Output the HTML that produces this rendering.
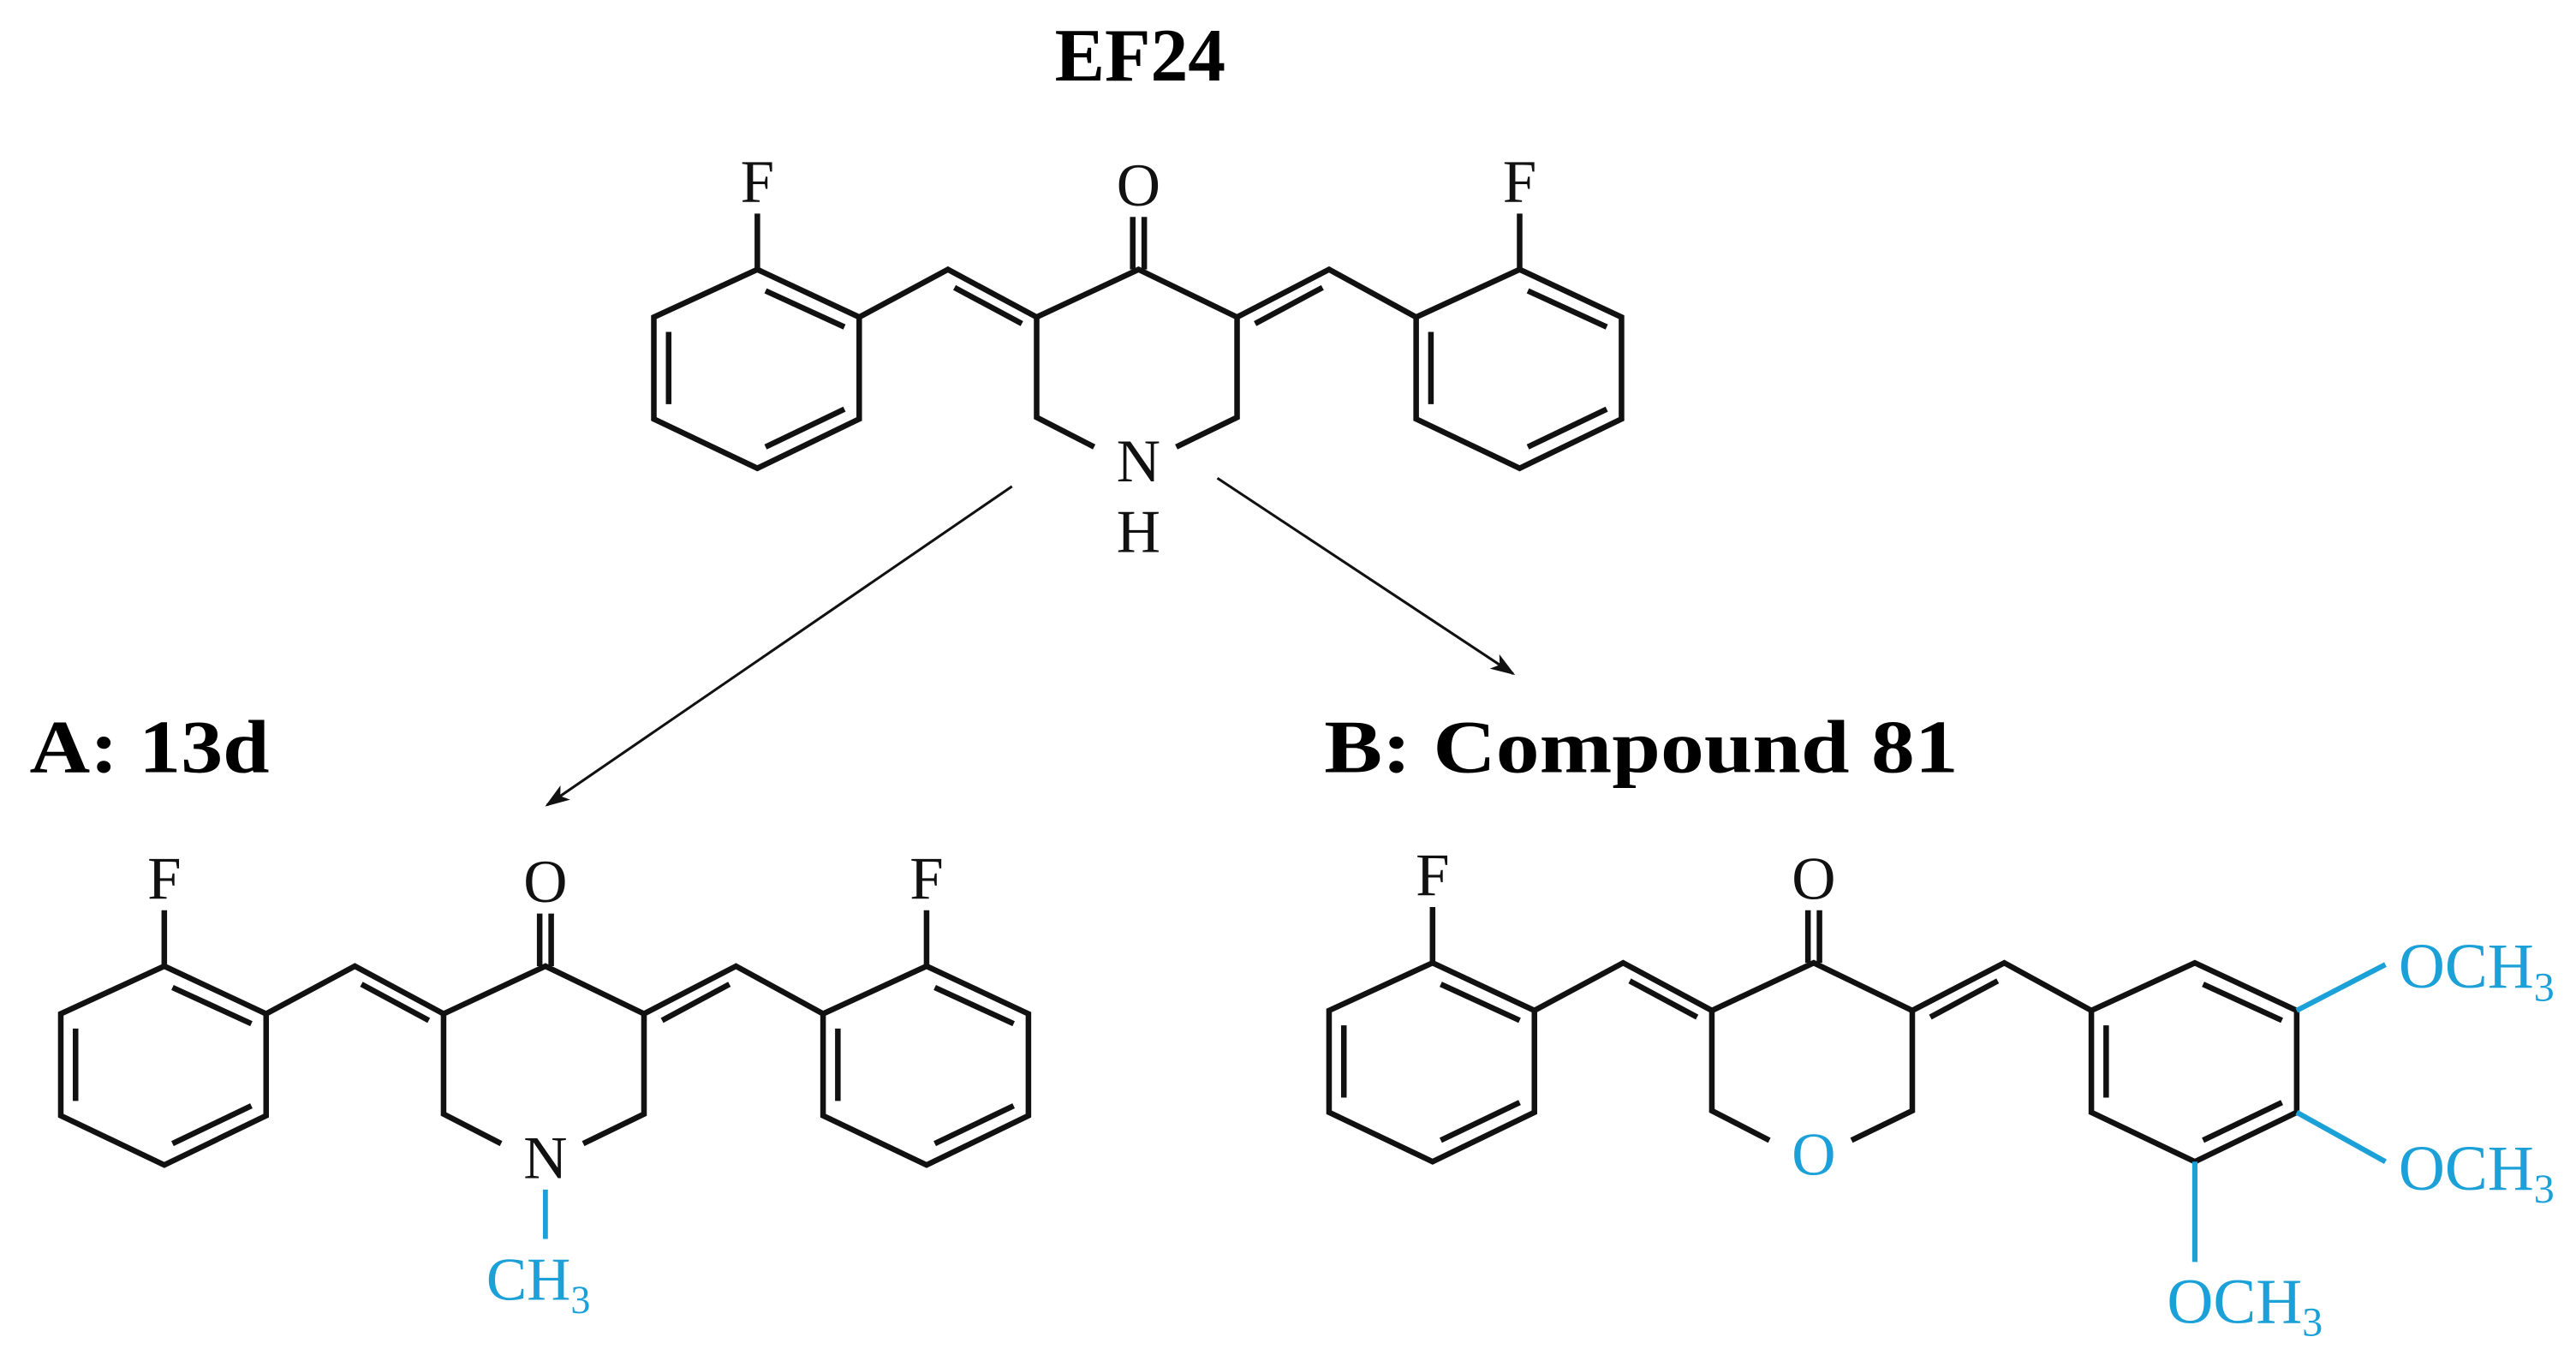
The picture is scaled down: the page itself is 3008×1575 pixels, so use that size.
<!DOCTYPE html>
<html><head><meta charset="utf-8"><style>
html,body{margin:0;padding:0;background:#fff;}
svg{display:block;}
text{font-family:"Liberation Serif",serif;}
</style></head><body>
<svg width="3008" height="1575" viewBox="0 0 1568 821" xmlns="http://www.w3.org/2000/svg">
<defs>
<g id="core" fill="none" stroke="#111" stroke-width="3.4" stroke-linejoin="miter" stroke-linecap="butt">
  <polygon points="461,164 523,193 523,255 461,285 398,255 398,193"/>
  <line x1="466" y1="177" x2="514" y2="199"/>
  <line x1="407" y1="202" x2="407" y2="246"/>
  <line x1="514" y1="249" x2="466" y2="272"/>
  <polygon points="925,164 987,193 987,255 925,285 862,255 862,193"/>
  <line x1="930" y1="177" x2="978" y2="199"/>
  <line x1="871" y1="202" x2="871" y2="246"/>
  <line x1="978" y1="249" x2="930" y2="272"/>
  <polyline points="523,193 577,164 631,193 693,164 753,193 809,164 862,193"/>
  <line x1="581" y1="175" x2="622" y2="197"/>
  <line x1="764" y1="197" x2="805" y2="175"/>
  <polyline points="631,193 631,254 666,272"/>
  <polyline points="753,193 753,254 716,272"/>
  <line x1="689.5" y1="164" x2="689.5" y2="132"/>
  <line x1="696.5" y1="164" x2="696.5" y2="132"/>
  <line x1="461" y1="164" x2="461" y2="130"/>
</g>
<g id="f2" fill="none" stroke="#111" stroke-width="3.4">
  <line x1="925" y1="164" x2="925" y2="130"/>
</g>
<marker id="ah" viewBox="0 0 10 10" refX="9" refY="5" markerWidth="15" markerHeight="15" markerUnits="userSpaceOnUse" orient="auto">
  <path d="M0,1.5 L10,5 L0,8.5 L2.5,5 z" fill="#111"/>
</marker>
</defs>

<text x="694" y="49" font-size="46" font-weight="bold" text-anchor="middle" textLength="104" lengthAdjust="spacingAndGlyphs">EF24</text>
<use href="#core"/>
<use href="#f2"/>
<g font-size="37" fill="#111" text-anchor="middle">
  <text x="461" y="123">F</text>
  <text x="925" y="123">F</text>
  <text x="693" y="125">O</text>
  <text x="693" y="293">N</text>
  <text x="693" y="336">H</text>
</g>

<line x1="616" y1="296" x2="333" y2="490" stroke="#111" stroke-width="1.6" marker-end="url(#ah)"/>
<line x1="741" y1="291" x2="921" y2="410" stroke="#111" stroke-width="1.6" marker-end="url(#ah)"/>

<text x="18" y="470" font-size="46" font-weight="bold" textLength="146" lengthAdjust="spacingAndGlyphs">A: 13d</text>
<text x="806" y="470" font-size="46" font-weight="bold" textLength="386" lengthAdjust="spacingAndGlyphs">B: Compound 81</text>

<g transform="translate(-361,424)">
  <use href="#core"/>
  <use href="#f2"/>
  <g font-size="37" fill="#111" text-anchor="middle">
    <text x="461" y="123">F</text>
    <text x="925" y="123">F</text>
    <text x="693" y="125">O</text>
    <text x="693" y="293">N</text>
  </g>
  <line x1="693" y1="300" x2="693" y2="330" stroke="#1ba1d8" stroke-width="3"/>
  <text x="657" y="367" font-size="37" fill="#1ba1d8">CH<tspan font-size="24" dy="8">3</tspan></text>
</g>

<g transform="translate(411,422)">
  <use href="#core"/>
  <g font-size="37" text-anchor="middle">
    <text x="461" y="123" fill="#111">F</text>
    <text x="693" y="125" fill="#111">O</text>
    <text x="693" y="293" fill="#1ba1d8">O</text>
  </g>
</g>
<g stroke="#1ba1d8" stroke-width="3.2" fill="none">
  <line x1="1398" y1="615" x2="1452" y2="587"/>
  <line x1="1398" y1="677" x2="1452" y2="707"/>
  <line x1="1336" y1="707" x2="1336" y2="768"/>
</g>
<g font-size="39" fill="#1ba1d8">
  <text x="1460" y="601">OCH<tspan font-size="25" dy="8">3</tspan></text>
  <text x="1460" y="724">OCH<tspan font-size="25" dy="8">3</tspan></text>
  <text x="1319" y="805">OCH<tspan font-size="25" dy="8">3</tspan></text>
</g>
</svg>
</body></html>
